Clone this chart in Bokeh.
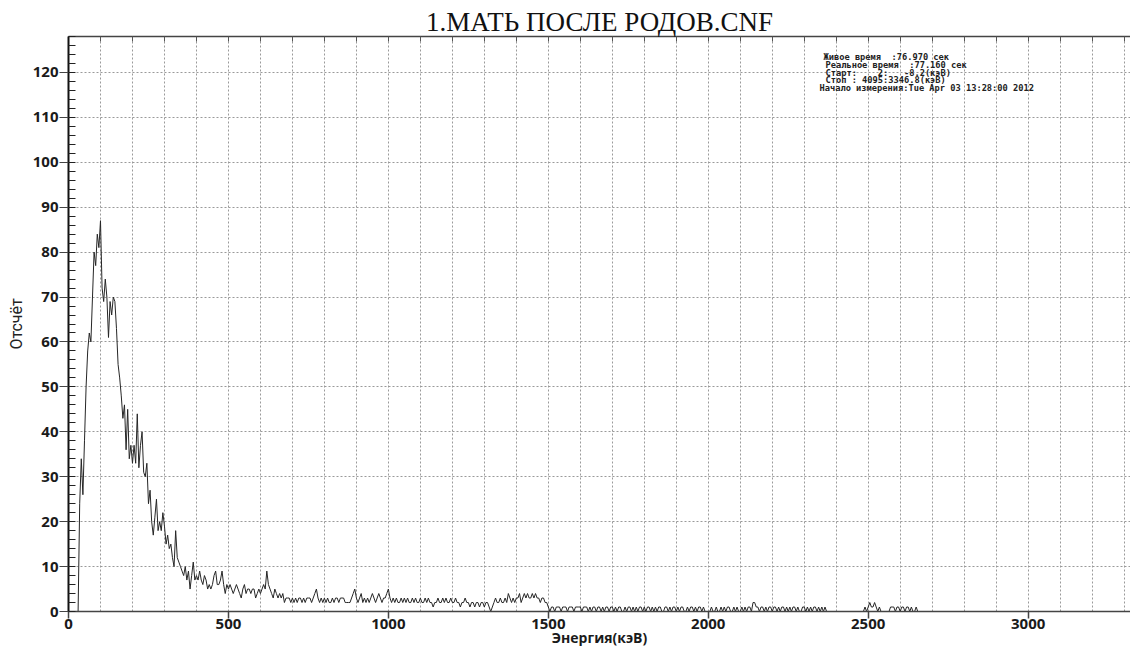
from bokeh.plotting import figure
from bokeh.models import Range1d, SingleIntervalTicker, LinearAxis, Label
from bokeh.embed import file_html
from bokeh.resources import INLINE

TITLE = "1.МАТЬ ПОСЛЕ РОДОВ.CNF"
X_LABEL = "Энергия(кэВ)"
Y_LABEL = "Отсчёт"
NB = "\u00a0"
INFO_LINES = [
    "Живое время  :76.970 сек",
    "Реальное время  :77.160 сек",
    "Старт:    2:   -8.2(кэВ)",
    "Стоп : 4095:3346.8(кэВ)",
    "Начало измерения:Tue Apr 03 13:28:00 2012",
]

# spectrum: counts, one value per 5 keV bin
ENERGY_STEP_KEV = 5.0
counts = [
    0, 0, 0, 0, 0, 0, 0, 24, 34, 26,
    38, 50, 58, 62, 60, 70, 80, 77, 84, 81,
    87, 72, 69, 74, 70, 61, 69, 66, 70, 69,
    63, 55, 52, 48, 43, 46, 36, 45, 34, 37,
    33, 37, 33, 44, 32, 37, 40, 31, 30, 33,
    24, 27, 20, 17, 21, 25, 18, 20, 18, 22,
    19, 15, 17, 14, 15, 12, 10, 18, 12, 11,
    10, 9, 8, 10, 7, 9, 5, 8, 11, 7,
    8, 7, 9, 7, 6, 8, 7, 5, 6, 5,
    6, 8, 9, 6, 6, 7, 9, 6, 4, 6,
    5, 6, 5, 4, 5, 6, 5, 4, 3, 5,
    6, 4, 5, 5, 4, 5, 5, 3, 4, 5,
    4, 5, 6, 5, 9, 6, 5, 4, 3, 5,
    4, 3, 4, 3, 4, 2, 3, 3, 3, 2,
    3, 2, 3, 2, 3, 3, 2, 3, 2, 3,
    3, 3, 2, 3, 4, 5, 3, 2, 3, 2,
    3, 2, 3, 2, 2, 3, 2, 3, 3, 2,
    3, 3, 3, 2, 2, 2, 2, 3, 4, 5,
    3, 2, 3, 4, 2, 3, 2, 3, 2, 3,
    4, 3, 2, 3, 4, 3, 2, 3, 3, 4,
    5, 3, 2, 3, 2, 3, 2, 2, 3, 2,
    3, 2, 3, 2, 2, 3, 2, 3, 2, 2,
    3, 2, 2, 3, 2, 3, 2, 2, 1, 2,
    2, 3, 2, 2, 3, 2, 3, 2, 2, 3,
    2, 2, 3, 2, 2, 1, 2, 2, 3, 2,
    2, 1, 2, 2, 1, 2, 2, 1, 2, 2,
    1, 2, 2, 1, 0, 1, 2, 3, 2, 2,
    3, 2, 2, 3, 2, 4, 3, 2, 3, 2,
    3, 3, 4, 2, 3, 4, 3, 4, 3, 3,
    4, 3, 4, 3, 3, 2, 3, 3, 2, 2,
    1, 0, 1, 1, 0, 1, 1, 1, 0, 1,
    1, 1, 0, 1, 1, 1, 0, 1, 1, 1,
    1, 0, 1, 1, 1, 0, 1, 0, 1, 1,
    0, 1, 1, 0, 1, 0, 1, 1, 0, 1,
    1, 0, 1, 0, 1, 1, 0, 0, 1, 0,
    1, 1, 0, 1, 0, 1, 0, 1, 1, 0,
    1, 0, 1, 1, 0, 1, 0, 1, 0, 1,
    1, 0, 0, 1, 1, 0, 1, 0, 1, 1,
    0, 1, 0, 1, 1, 0, 0, 1, 0, 1,
    1, 0, 1, 0, 1, 1, 0, 1, 0, 0,
    0, 0, 1, 0, 0, 1, 0, 0, 1, 0,
    1, 0, 1, 1, 0, 0, 1, 0, 1, 0,
    0, 1, 0, 1, 0, 1, 1, 0, 2, 2,
    1, 1, 0, 1, 1, 0, 1, 0, 1, 1,
    0, 1, 1, 0, 1, 0, 1, 1, 0, 1,
    0, 1, 0, 1, 1, 0, 1, 0, 0, 1,
    1, 0, 1, 0, 1, 0, 1, 1, 0, 1,
    0, 1, 0, 1, 0, 0, 0, 0, 0, 0,
    0, 0, 0, 0, 0, 0, 0, 0, 0, 0,
    0, 0, 0, 0, 0, 0, 0, 0, 1, 0,
    1, 2, 1, 1, 2, 1, 0, 1, 0, 0,
    0, 0, 0, 0, 1, 1, 1, 0, 1, 1,
    0, 1, 1, 0, 1, 1, 0, 1, 0, 0,
    1, 0, 0, 0,
]
energy_kev = [i * ENERGY_STEP_KEV for i in range(len(counts))]

X_MAX = 3320
Y_MAX = 128

p = figure(width=1130, height=650, output_backend="svg", toolbar_location=None,
           x_range=Range1d(0, X_MAX), y_range=Range1d(0, Y_MAX),
           min_border_left=68, min_border_right=0, min_border_top=36, min_border_bottom=39)
p.outline_line_color = None
p.background_fill_color = "white"
p.border_fill_color = "white"

p.line(energy_kev, counts, line_color="#262626", line_width=1)

# grids
p.xgrid.ticker = SingleIntervalTicker(interval=100)
p.ygrid.ticker = SingleIntervalTicker(interval=10)
for g in (p.xgrid, p.ygrid):
    g.grid_line_color = "#9a9a9a"
    g.grid_line_dash = "2 2"
    g.grid_line_width = 1

# title
p.title.text = TITLE
p.title.text_font = "Liberation Serif"
p.title.text_font_size = "27px"
p.title.text_font_style = "normal"
p.title.text_color = "#111111"
p.title.align = "center"
p.title.standoff = 0

# bottom axis
xa = p.xaxis[0]
xa.ticker = SingleIntervalTicker(interval=500, num_minor_ticks=0)
xa.major_tick_in = 0
xa.major_tick_out = 7
xa.minor_tick_line_color = None
xa.axis_line_color = "#444444"
xa.axis_line_width = 1.5
xa.major_tick_line_color = "#444444"
xa.major_tick_line_width = 1.5
xa.major_label_text_font = "Open Sans"
xa.major_label_text_font_style = "bold"
xa.major_label_text_font_size = "15px"
xa.major_label_text_color = "#1a1a1a"
xa.major_label_standoff = 0
xa.axis_label = X_LABEL
xa.axis_label_text_font = "Open Sans"
xa.axis_label_text_font_style = "bold"
xa.axis_label_text_font_size = "14px"
xa.axis_label_text_color = "#1a1a1a"
xa.axis_label_standoff = -4

# left axis
ya = p.yaxis[0]
ya.ticker = SingleIntervalTicker(interval=10, num_minor_ticks=5)
ya.major_tick_in = 0
ya.major_tick_out = 9
ya.minor_tick_in = 7
ya.minor_tick_out = 0
ya.axis_line_color = "#111111"
ya.axis_line_width = 2
ya.major_tick_line_color = "#444444"
ya.minor_tick_line_color = "#222222"
ya.major_label_text_font = "Open Sans"
ya.major_label_text_font_style = "bold"
ya.major_label_text_font_size = "15px"
ya.major_label_text_color = "#1a1a1a"
ya.major_label_standoff = 1
ya.axis_label = Y_LABEL
ya.axis_label_text_font = "Roboto"
ya.axis_label_text_font_style = "normal"
ya.axis_label_text_font_size = "16px"
ya.axis_label_text_color = "#222222"
ya.axis_label_standoff = 4

# top axis: frame line with small inward ticks, labels hidden
ta = LinearAxis(ticker=SingleIntervalTicker(interval=100, num_minor_ticks=0))
ta.major_tick_in = 5
ta.major_tick_out = 0
ta.minor_tick_line_color = None
ta.major_label_text_font_size = "1px"
ta.major_label_text_color = None
ta.major_label_standoff = 0
ta.axis_line_color = "#444444"
ta.axis_line_width = 1.5
ta.major_tick_line_color = "#555555"
p.add_layout(ta, "above")

# acquisition info block (top right, inside the frame)
info_y = [123.5, 121.7, 119.9, 118.3, 116.6]
info_x = [755, 757, 757, 757, 751]
for t, xx, yy in zip(INFO_LINES, info_x, info_y):
    p.add_layout(Label(x=xx, y=yy, x_units="screen", y_units="data", text=t.replace(" ", NB),
                       text_font="DejaVu Sans Mono", text_font_style="bold",
                       text_font_size="8.7px", text_align="left", text_baseline="middle",
                       text_color="#222222"))

open("out.html", "w").write(file_html(p, INLINE))
